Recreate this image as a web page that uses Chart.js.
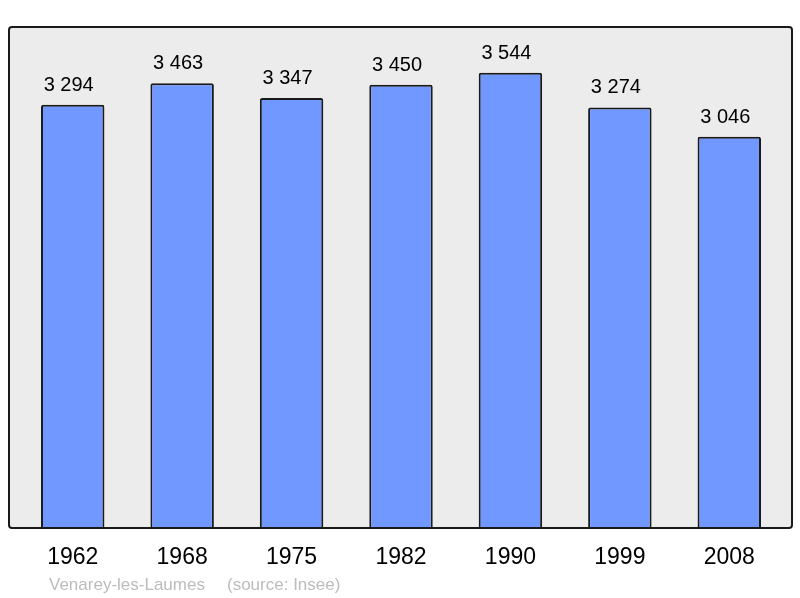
<!DOCTYPE html>
<html><head><meta charset="utf-8">
<script src="https://cdn.jsdelivr.net/npm/chart.js@4/dist/chart.umd.min.js"></script>
<style>html,body{margin:0;padding:0;background:#fff}#wrap{width:800px;height:598px;position:relative}</style>
</head><body><div id="wrap"><canvas id="c" width="800" height="598"></canvas></div>
<script>
const years = ["1962","1968","1975","1982","1990","1999","2008"];
const population = [3294,3463,3347,3450,3544,3274,3046];
const labelsText = ["3 294","3 463","3 347","3 450","3 544","3 274","3 046"];
const footerName = "Venarey-les-Laumes";
const footerSource = "(source: Insee)";

const bgPlugin = {
  id:'bg',
  beforeDraw(chart){
    const {ctx, chartArea:a} = chart;
    ctx.save();
    const x=a.left-9, y=a.top, w=(a.right+8)-x, h=a.bottom-a.top;
    ctx.beginPath(); ctx.roundRect(x,y,w,h,3);
    ctx.fillStyle='#ececec'; ctx.fill();
    ctx.restore();
  },
  afterDatasetsDraw(chart){
    const {ctx, chartArea:a} = chart;
    ctx.save();
    const x=a.left-9, y=a.top, w=(a.right+8)-x, h=a.bottom-a.top;
    ctx.beginPath(); ctx.roundRect(x,y,w,h,3);
    ctx.lineWidth=2; ctx.strokeStyle='#1a1a1a'; ctx.stroke();
    const meta = chart.getDatasetMeta(0);
    ctx.font='20px "Liberation Sans", Arial, sans-serif';
    ctx.fillStyle='#000'; ctx.textAlign='center'; ctx.textBaseline='alphabetic';
    meta.data.forEach((bar,i)=>{ ctx.fillText(labelsText[i], bar.x-4, bar.y-14); });
    ctx.font='17px "Liberation Sans", Arial, sans-serif';
    ctx.fillStyle='#bcbcbc'; ctx.textAlign='left';
    ctx.fillText(footerName, 49, 590);
    ctx.fillText(footerSource, 227, 590);
    ctx.restore();
  }
};

new Chart(document.getElementById('c'), {
  type:'bar',
  data:{labels:years, datasets:[{data:population, backgroundColor:'#7098ff', borderColor:'#1a1a1a', borderWidth:2, borderRadius:2, borderSkipped:'bottom', categoryPercentage:1, barPercentage:0.58}]},
  options:{
    responsive:false, animation:false, devicePixelRatio:1,
    layout:{padding:{left:18, right:16, top:27, bottom:0}},
    plugins:{legend:{display:false}, tooltip:{enabled:false}},
    scales:{
      y:{display:false, min:0, max:3900},
      x:{
        grid:{display:false, drawTicks:false}, border:{display:false},
        ticks:{color:'#000', font:{family:'"Liberation Sans", Arial, sans-serif', size:23}, padding:16, maxRotation:0},
        afterFit(s){ s.height = 70; }
      }
    }
  },
  plugins:[bgPlugin]
});
</script></body></html>
